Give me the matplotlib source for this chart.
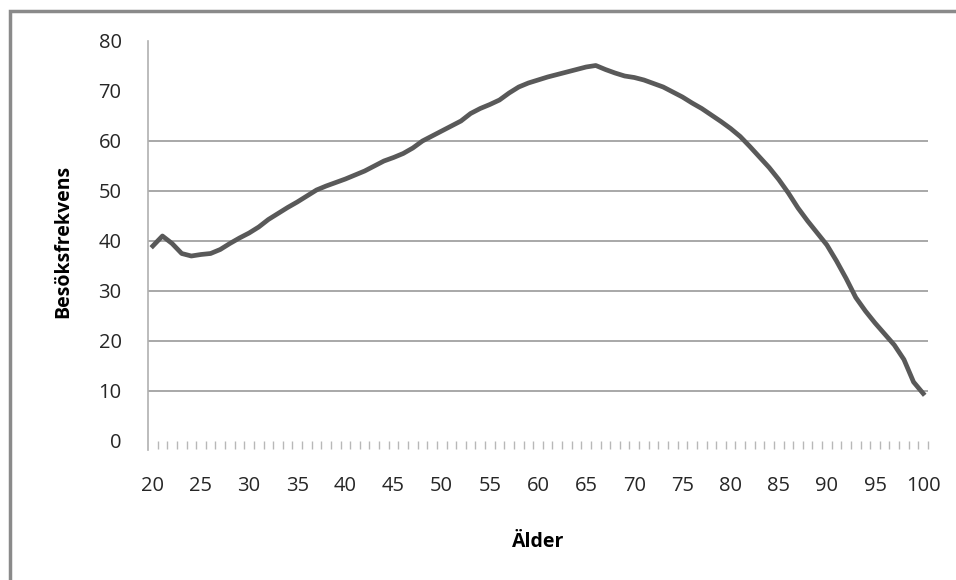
import numpy as np
import matplotlib
matplotlib.use("Agg")
import matplotlib.pyplot as plt
from matplotlib.patches import Rectangle
from matplotlib.ticker import FixedLocator

plt.rcParams['font.family'] = ['Open Sans', 'DejaVu Sans']

# Besöksfrekvens per ålder (20-100 år)
alder = np.arange(20, 101)
besok = [
    39.0, 41.0, 39.5, 37.5, 37.0, 37.3, 37.5, 38.3, 39.5, 40.6,   # 20-29
    41.6, 42.8, 44.3, 45.5, 46.7, 47.8, 49.0, 50.2, 51.0, 51.7,   # 30-39
    52.4, 53.2, 54.0, 55.0, 56.0, 56.7, 57.5, 58.6, 60.0, 61.0,   # 40-49
    62.0, 63.0, 64.0, 65.5, 66.5, 67.3, 68.2, 69.6, 70.8, 71.6,   # 50-59
    72.2, 72.8, 73.3, 73.8, 74.3, 74.8, 75.1, 74.3, 73.6, 73.0,   # 60-69
    72.7, 72.2, 71.5, 70.8, 69.8, 68.8, 67.6, 66.5, 65.2, 63.9,   # 70-79
    62.5, 60.9, 58.9, 56.8, 54.7, 52.3, 49.6, 46.6, 44.0, 41.6,   # 80-89
    39.2, 36.0, 32.5, 28.7, 26.0, 23.6, 21.4, 19.2, 16.3, 11.8,   # 90-99
    9.5,                                                          # 100
]
y_ticks = [0, 10, 20, 30, 40, 50, 60, 70, 80]
grid_levels = [10, 20, 30, 40, 50, 60]
x_ticks = list(range(20, 101, 5))

fig = plt.figure(figsize=(9.56, 5.8), dpi=100)
fig.patch.set_facecolor('white')

# chart border
fig.patches.append(Rectangle((10 / 956, -0.1), 1.2, 1.1 - 11 / 580,
                             transform=fig.transFigure, fill=False,
                             edgecolor='#8a8a8a', linewidth=2.5, clip_on=False))

ax = fig.add_axes([148 / 956, 139 / 580, 780 / 956, 400 / 580])
ax.set_xlim(19.5, 100.5)
ax.set_ylim(0, 80)

for lvl in grid_levels:
    ax.axhline(lvl, color='#a8a8a8', linewidth=1.4, zorder=1)

ax.plot(alder, besok, color='#595959', linewidth=3.4,
        solid_joinstyle='round', zorder=3)

for side in ['top', 'right', 'bottom']:
    ax.spines[side].set_visible(False)
ax.spines['left'].set_color('#b0b0b0')
ax.spines['left'].set_linewidth(1.2)
ax.spines['left'].set_bounds(-1.8, 80)

ax.set_yticks(y_ticks)
ax.tick_params(axis='y', length=0, pad=19, labelsize=14.5, labelcolor='#262626')
ax.set_xticks(x_ticks)
ax.tick_params(axis='x', which='major', length=0, pad=25, labelsize=14.5,
               labelcolor='#262626')
ax.xaxis.set_minor_locator(FixedLocator(np.arange(20.5, 101, 1.0)))
ax.tick_params(axis='x', which='minor', length=5.5, width=1.0, color='#b8b8b8')

ax.set_ylabel('Besöksfrekvens', fontsize=14, fontweight='bold', labelpad=18)
ax.set_xlabel('Älder', fontsize=14, fontweight='bold', labelpad=26)

fig.savefig('out.png', dpi=100)
